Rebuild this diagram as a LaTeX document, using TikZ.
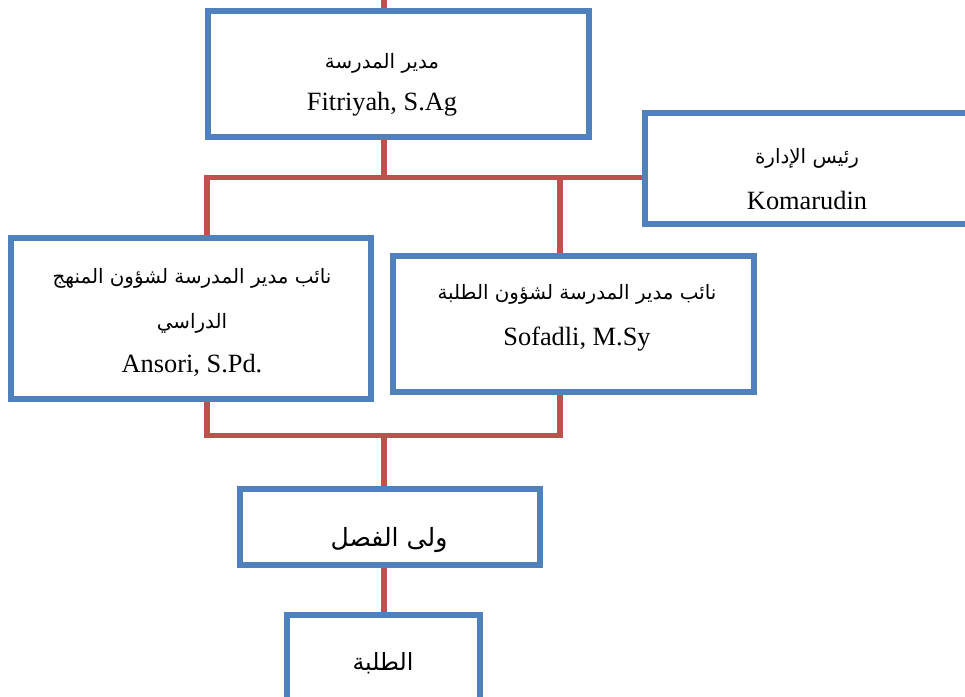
\documentclass[tikz,border=0pt]{standalone}
\usepackage{fontspec}
\setmainfont{Liberation Serif}
\newfontfamily\arabicfont[Script=Arabic]{DejaVu Sans}
\TeXXeTstate=1
\usetikzlibrary{positioning}
\pgfdeclarelayer{bg}
\pgfsetlayers{bg,main}
\definecolor{boxblue}{RGB}{79,129,189}
\definecolor{linkred}{RGB}{192,80,77}
\newcommand{\artext}[1]{{\arabicfont\beginR #1\endR}}

\begin{document}
\begin{tikzpicture}[x=0.02cm,y=-0.02cm,
    unit/.style={draw=boxblue,line width=3.4pt,fill=white,inner sep=0pt},
    link/.style={draw=linkred,line width=2.85pt},
    latin/.style={anchor=base,inner sep=0pt,font=\fontsize{15}{18}\selectfont},
    arab/.style={anchor=base,inner sep=0pt,font=\fontsize{11.3}{14}\selectfont}]
  \useasboundingbox (0,0) rectangle (965,697);
  \clip (0,0) rectangle (965,697);

  % boxes
  \node[unit,minimum width=7.62cm,minimum height=2.52cm] (boss)   at (398.5,74)  {};
  \node[unit,minimum width=7.0cm, minimum height=2.22cm] (admin)  at (820,168.5) {};
  \node[unit,minimum width=7.2cm, minimum height=3.22cm] (cur)    at (191,318.5) {};
  \node[unit,minimum width=7.22cm,minimum height=2.72cm] (sa)     at (573.5,324) {};
  \node[unit,minimum width=6.0cm, minimum height=1.52cm] (wali)   at (390,527)   {};
  \node[unit,minimum width=3.86cm,minimum height=2.08cm] (pupils) at (383.5,667) {};

  % texts
  \node[arab]  (bossar)    at (382,68)  {\artext{مدير المدرسة}};
  \node[latin] (bossname)  at (382,110) {Fitriyah, S.Ag};
  \node[arab]  (adminar)   at (807,163) {\artext{رئيس الإدارة}};
  \node[latin] (adminname) at (807,209) {Komarudin};
  \node[arab]  (curar)     at (192,283) {\artext{نائب مدير المدرسة لشؤون المنهج}};
  \node[arab]  (curar2)    at (192,328) {\artext{الدراسي}};
  \node[latin] (curname)   at (192,372) {Ansori, S.Pd.};
  \node[arab]  (saar)      at (577,299) {\artext{نائب مدير المدرسة لشؤون الطلبة}};
  \node[latin] (saname)    at (577,345) {Sofadli, M.Sy};
  \node[arab,font=\fontsize{14.3}{17}\selectfont] (walitext) at (389,546) {\artext{ولى الفصل}};
  \node[arab,font=\fontsize{13.5}{16}\selectfont] (pupilstext) at (383,670) {\artext{الطلبة}};

  % joints
  \coordinate (top) at (384,-5);
  \coordinate (jt) at (384,177);
  \coordinate (jl) at (207,177);
  \coordinate (jr) at (560,177);
  \coordinate (bl) at (207,435);
  \coordinate (bm) at (384,435);
  \coordinate (br) at (560,435);

  \begin{pgfonlayer}{bg}
    \draw[link] (top) -- (boss.north -| top);
    \draw[link] (boss.south -| jt) -- (jt);
    \draw[link] (cur.north -| jl) -- (jl) -- (admin.west |- jl);
    \draw[link] (sa.north -| jr) -- (jr);
    \draw[link] (cur.south -| bl) -- (bl) -- (br) -- (sa.south -| br);
    \draw[link] (bm) -- (wali.north -| bm);
    \draw[link] (wali.south -| bm) -- (pupils.north -| bm);
  \end{pgfonlayer}
\end{tikzpicture}
\end{document}
